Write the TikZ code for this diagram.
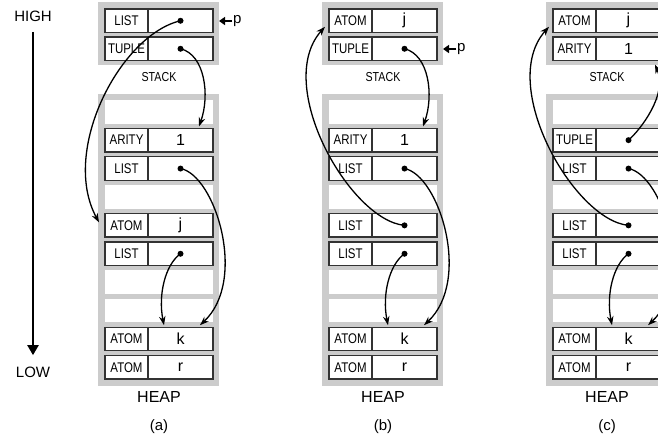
\documentclass[tikz,border=0pt]{standalone}
\usepackage{fontspec}
\setmainfont{Liberation Sans}
\newfontfamily\narrowsf{Liberation Sans}[FakeStretch=0.82]
\usetikzlibrary{arrows.meta, positioning, calc}
\definecolor{zonegray}{RGB}{204,204,204}
\definecolor{cellline}{RGB}{51,51,51}

\begin{document}
\begin{tikzpicture}[x=1pt, y=-1pt,
  memzone/.style={fill=zonegray, inner sep=0pt, outer sep=0pt},
  tagbox/.style={draw=cellline, fill=white, line width=1.3pt, inner sep=0pt, outer sep=0pt,
    minimum width=43pt, minimum height=23.5pt, font=\narrowsf\fontsize{14}{16}\selectfont},
  valbox/.style={tagbox, minimum width=65pt, font=\fontsize{16}{18}\selectfont},
  emptyrow/.style={fill=white, inner sep=0pt, outer sep=0pt, minimum width=108pt, minimum height=23.5pt},
  ptr/.style={circle, fill=black, inner sep=0pt, minimum size=6pt},
  link/.style={line width=1.3pt, -{Stealth[length=9pt,width=6.5pt]}},
  lbl/.style={font=\fontsize{15}{17}\selectfont}]

  \clip (0,0) rectangle (658,440);

  % high / low axis
  \node[lbl] (high) at (33,16) {HIGH};
  \node[lbl] (low) at (33,372) {LOW};
  \draw[line width=2.2pt, -{Triangle[length=10pt,width=11pt]}, shorten <=7pt, shorten >=8pt] (high) -- (low);

  % stack and heap zones, the same in every panel
  \foreach \p/\dx in {a/0, b/224, c/448} {
    \node[memzone, minimum width=121pt, minimum height=63pt] (\p-stack) at (158.5+\dx,33.5) {};
    \node[memzone, minimum width=121pt, minimum height=292pt] (\p-heap) at (158.5+\dx,240) {};
    \node[emptyrow] (\p-h1) at (159+\dx,111.75) {};
    \node[emptyrow] (\p-h4) at (159+\dx,196.95) {};
    \node[emptyrow] (\p-h7) at (159+\dx,282.15) {};
    \node[emptyrow] (\p-h8) at (159+\dx,310.55) {};
    \node[tagbox] (\p-h9-tag) at (126.5+\dx,338.95) {ATOM};
    \node[valbox, right=0pt of \p-h9-tag] (\p-h9-val) {k};
    \node[tagbox] (\p-h10-tag) at (126.5+\dx,367.35) {ATOM};
    \node[valbox, right=0pt of \p-h10-tag] (\p-h10-val) {r};
    \node[font=\narrowsf\fontsize{13}{15}\selectfont] (\p-stacklbl) at (159+\dx,77) {STACK};
    \node[lbl, font=\fontsize{16}{18}\selectfont] (\p-heaplbl) at (159+\dx,397) {HEAP};
    \node[lbl] (\p-caption) at (159+\dx,427) {(\p)};
  }

  % cells that change between panels
  \foreach \p/\dx/\r/\y/\t/\v in {
      a/0/s1/20.75/LIST/{}, a/0/s2/48.75/TUPLE/{},
      a/0/h2/140.15/ARITY/1, a/0/h3/168.55/LIST/{}, a/0/h5/225.35/ATOM/j, a/0/h6/253.75/LIST/{},
      b/224/s1/20.75/ATOM/j, b/224/s2/48.75/TUPLE/{},
      b/224/h2/140.15/ARITY/1, b/224/h3/168.55/LIST/{}, b/224/h5/225.35/LIST/{}, b/224/h6/253.75/LIST/{},
      c/448/s1/20.75/ATOM/j, c/448/s2/48.75/ARITY/1,
      c/448/h2/140.15/TUPLE/{}, c/448/h3/168.55/LIST/{}, c/448/h5/225.35/LIST/{}, c/448/h6/253.75/LIST/{}} {
    \node[tagbox] (\p-\r-tag) at (126.5+\dx,\y) {\t};
    \node[valbox, right=0pt of \p-\r-tag] (\p-\r-val) {\v};
  }

  \foreach \n in {a-s1, a-s2, a-h3, a-h6, b-s2, b-h3, b-h5, b-h6, c-h2, c-h3, c-h5, c-h6}
    \node[ptr] (\n-dot) at (\n-val) {};

  % p pointers
  \node[lbl, anchor=west, inner sep=1pt] (a-p) at (232,21) {p};
  \node[lbl, anchor=west, inner sep=1pt] (b-p) at (456,49) {p};
  \foreach \p in {a, b}
    \draw[line width=1.5pt, -{Triangle[length=6pt,width=8pt]}] (\p-p.west) -- (\p-p.west -| \p-stack.east);

  % links
  \draw[link] (a-s1-dot.center) .. controls +(-60,14) and +(-39,-72) .. ([xshift=-6pt,yshift=3pt]a-h5-tag.west);
  \foreach \p in {a, b}
    \draw[link] (\p-s2-dot.center) .. controls +(24.5,6) and +(11,-31) .. ([xshift=18.5pt,yshift=2pt]\p-h2-val.north);
  \foreach \p in {b, c}
    \draw[link] (\p-h5-dot.center) .. controls +(-54.5,-5) and +(-52,58) .. ([xshift=-4pt,yshift=-6pt]\p-s1-tag.west);
  \draw[link] (c-h2-dot.center) .. controls +(11.5,-10) and +(13,30) .. ([xshift=-6pt,yshift=-4pt]c-s2-val.south east);
  \foreach \p in {a, b, c} {
    \draw[link] (\p-h3-dot.center) .. controls +(34.5,6.4) and +(48,-45) .. ([xshift=19.5pt,yshift=2pt]\p-h9-val.north);
    \draw[link] (\p-h6-dot.center) .. controls +(-15.5,11) and +(-6,-30) .. ([xshift=-16.5pt,yshift=2pt]\p-h9-val.north);
  }
\end{tikzpicture}
\end{document}
